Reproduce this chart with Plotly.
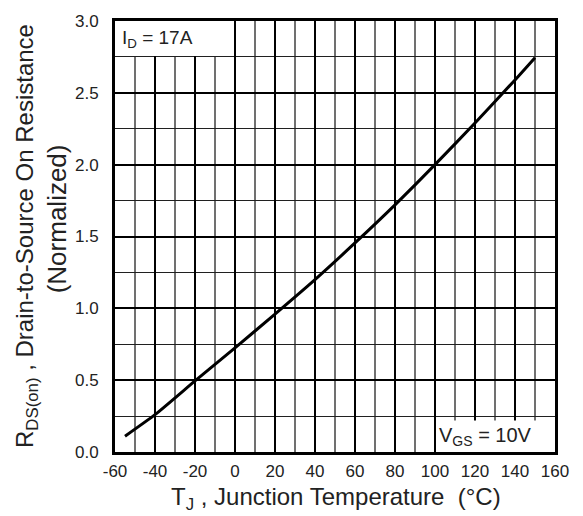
import plotly.graph_objects as go

# Data
temperature_c = [-55, -40, -20, 0, 20, 40, 60, 80, 100, 120, 140, 150]
rds_normalized = [0.11, 0.26, 0.495, 0.725, 0.96, 1.20, 1.455, 1.72, 2.0, 2.29, 2.59, 2.745]

x_ticks = [-60, -40, -20, 0, 20, 40, 60, 80, 100, 120, 140, 160]
y_ticks = [0.0, 0.5, 1.0, 1.5, 2.0, 2.5, 3.0]

FONT = "Liberation Sans, Arial, sans-serif"
TXT = "#222222"

W, H = 583, 516
L, R, T, B = 115, 28, 13, 64
PW, PH = W - L - R, H - T - B


def px2paper_x(px):
    return (px - L) / PW


def px2paper_y(py):
    return (H - B - py) / PH


fig = go.Figure()
fig.add_trace(go.Scatter(
    x=temperature_c, y=rds_normalized, mode="lines",
    line=dict(color="black", width=3, shape="spline", smoothing=0.5),
    showlegend=False, hoverinfo="skip",
))

fig.update_layout(
    width=W, height=H,
    margin=dict(l=L, r=R, t=T, b=B, pad=0),
    paper_bgcolor="white", plot_bgcolor="white",
    font=dict(family=FONT, color=TXT, size=17),
    showlegend=False,
)

fig.update_xaxes(
    range=[-60, 160], tickvals=x_ticks, ticktext=[str(v) for v in x_ticks],
    showgrid=True, gridcolor="black", gridwidth=2,
    minor=dict(dtick=10, tick0=0, showgrid=True, gridcolor="#707070", gridwidth=1.6),
    showline=True, linecolor="black", linewidth=3, mirror=True,
    ticks="", ticklabelstandoff=2, zeroline=False,
    tickfont=dict(size=17, color=TXT, family=FONT),
)
fig.update_yaxes(
    range=[0, 3.0], tickvals=y_ticks, ticktext=[f"{v:.1f}" for v in y_ticks],
    showgrid=True, gridcolor="black", gridwidth=2,
    minor=dict(dtick=0.25, tick0=0, showgrid=True, gridcolor="#202020", gridwidth=1.2),
    showline=True, linecolor="black", linewidth=3, mirror=True,
    ticks="", ticklabelstandoff=10, zeroline=False,
    tickfont=dict(size=17, color=TXT, family=FONT),
)

# white label boxes covering grid (above grid, below trace)
fig.add_shape(type="rect", xref="x", yref="y", x0=-60, x1=-0.8, y0=2.757, y1=3.0,
              fillcolor="white", line=dict(width=0), layer="between")
fig.add_shape(type="rect", xref="x", yref="y", x0=100.8, x1=160, y0=0, y1=0.22,
              fillcolor="white", line=dict(width=0), layer="between")

fig.add_annotation(text="I<sub>D</sub> = 17A", xref="x", yref="y", x=-60, y=2.875,
                   xanchor="left", yanchor="middle", xshift=5, showarrow=False,
                   font=dict(size=19, color=TXT, family=FONT))
fig.add_annotation(text="V<sub>GS</sub> = 10V", xref="x", yref="y", x=101, y=0.105,
                   xanchor="left", yanchor="middle", xshift=0, showarrow=False,
                   font=dict(size=20, color=TXT, family=FONT))

# axis titles
fig.add_annotation(text="T<sub>J</sub> , Junction Temperature  (°C)",
                   xref="paper", yref="paper", x=px2paper_x(336), y=px2paper_y(499),
                   xanchor="center", yanchor="middle", showarrow=False,
                   font=dict(size=24, color=TXT, family=FONT))
fig.add_annotation(text="R<sub>DS(on)</sub> , Drain-to-Source On Resistance",
                   xref="paper", yref="paper", x=px2paper_x(26), y=px2paper_y(232),
                   xanchor="center", yanchor="middle", textangle=-90, showarrow=False,
                   font=dict(size=24, color=TXT, family=FONT))
fig.add_annotation(text="(Normalized)",
                   xref="paper", yref="paper", x=px2paper_x(57), y=px2paper_y(215),
                   xanchor="center", yanchor="middle", textangle=-90, showarrow=False,
                   font=dict(size=26, color=TXT, family=FONT))

fig.write_html("out.html")
